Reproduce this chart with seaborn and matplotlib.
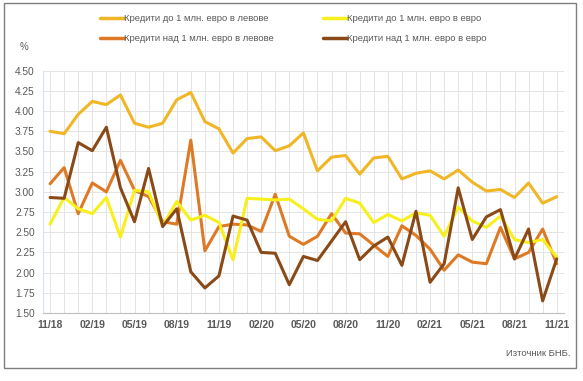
import matplotlib
matplotlib.use('Agg')
import matplotlib.pyplot as plt
import matplotlib.patches as mpatches
import pandas as pd
import seaborn as sns

# Monthly data 11/2018 - 11/2021
months = ['11/18', '12/18', '01/19', '02/19', '03/19', '04/19', '05/19', '06/19', '07/19',
          '08/19', '09/19', '10/19', '11/19', '12/19', '01/20', '02/20', '03/20', '04/20',
          '05/20', '06/20', '07/20', '08/20', '09/20', '10/20', '11/20', '12/20', '01/21',
          '02/21', '03/21', '04/21', '05/21', '06/21', '07/21', '08/21', '09/21', '10/21', '11/21']

bgn_small = [3.75, 3.72, 3.96, 4.12, 4.08, 4.20, 3.85, 3.80, 3.85, 4.14, 4.23, 3.87, 3.78,
             3.48, 3.66, 3.68, 3.51, 3.57, 3.73, 3.26, 3.43, 3.45, 3.22, 3.42, 3.44, 3.16,
             3.23, 3.26, 3.16, 3.27, 3.12, 3.01, 3.03, 2.93, 3.11, 2.86, 2.94]
eur_small = [2.60, 2.93, 2.79, 2.73, 2.93, 2.44, 3.02, 3.00, 2.58, 2.88, 2.65, 2.71, 2.62,
             2.16, 2.92, 2.91, 2.90, 2.91, 2.79, 2.66, 2.64, 2.92, 2.86, 2.62, 2.72, 2.64,
             2.74, 2.71, 2.45, 2.81, 2.64, 2.56, 2.70, 2.41, 2.37, 2.41, 2.19]
bgn_large = [3.10, 3.30, 2.73, 3.11, 3.00, 3.39, 3.02, 2.94, 2.63, 2.60, 3.64, 2.27, 2.57,
             2.60, 2.59, 2.51, 2.97, 2.45, 2.35, 2.45, 2.73, 2.49, 2.48, 2.34, 2.20, 2.58,
             2.46, 2.29, 2.03, 2.22, 2.13, 2.11, 2.56, 2.17, 2.25, 2.54, 2.11]
eur_large = [2.93, 2.92, 3.61, 3.51, 3.80, 3.05, 2.63, 3.29, 2.57, 2.79, 2.01, 1.81, 1.96,
             2.70, 2.65, 2.25, 2.24, 1.85, 2.20, 2.15, 2.39, 2.63, 2.16, 2.33, 2.44, 2.09,
             2.76, 1.88, 2.11, 3.05, 2.41, 2.69, 2.78, 2.17, 2.54, 1.65, 2.17]

names = ['Кредити до 1 млн. евро в левове', 'Кредити над 1 млн. евро в левове',
         'Кредити до 1 млн. евро в евро', 'Кредити над 1 млн. евро в евро']
colors = ['#F0B625', '#DE7A26', '#F7F01C', '#8A4A17']

df = pd.DataFrame({'idx': list(range(len(months))) * 4,
                   'value': bgn_small + bgn_large + eur_small + eur_large,
                   'series': [n for n in names for _ in months]})

sns.set_style('white')
plt.rcParams['font.family'] = ['Liberation Sans', 'DejaVu Sans']

fig = plt.figure(figsize=(5.83, 3.81), dpi=100)
ax = fig.add_axes([0.0738, 0.1785, 0.8932, 0.6359])

sns.lineplot(data=df, x='idx', y='value', hue='series', hue_order=names,
             palette=dict(zip(names, colors)), linewidth=2.2, ax=ax, legend=False)

ax.set_xlim(-0.5, len(months) - 0.5)
ax.set_ylim(1.5, 4.5)
ax.set_yticks([1.5 + 0.25 * i for i in range(13)])
ax.set_yticklabels(['%.2f' % (1.5 + 0.25 * i) for i in range(13)], fontsize=7.3, color='#595959')
ax.set_xticks(range(0, len(months), 3))
ax.set_xticklabels(months[::3], fontsize=7.5, color='#595959', fontweight='bold')
ax.set_xticks(range(len(months)), minor=True)
ax.tick_params(axis='x', which='both', length=3, color='#BFBFBF', direction='out', pad=2)
ax.tick_params(axis='y', length=0, pad=6)
ax.grid(True, which='both', color='#E4E4E4', linewidth=0.7)
ax.set_axisbelow(True)
ax.set_xlabel('')
ax.set_ylabel('')
for s in ['top', 'right']:
    ax.spines[s].set_visible(False)
ax.spines['bottom'].set_color('#BFBFBF')
ax.spines['left'].set_color('#D9E1F0')

handles = [plt.Line2D([], [], color=c, linewidth=2.5) for c in colors]
fig.legend(handles, names, loc='upper center', bbox_to_anchor=(0.503, 0.985), ncol=2,
           frameon=False, fontsize=6.8, labelcolor='#595959', handlelength=2.55,
           handletextpad=0.0, columnspacing=5.2, labelspacing=1.15)

fig.text(20 / 583, 1 - 47 / 381, '%', fontsize=7, color='#595959', va='center')
fig.text(570 / 583, 1 - 353 / 381, 'Източник БНБ.', fontsize=6.8, color='#595959',
         ha='right', va='center')

fig.patches.append(mpatches.Rectangle((4 / 583, 1 - 368 / 381), 572 / 583, 365 / 381,
                                      transform=fig.transFigure, fill=False,
                                      edgecolor='#7F7F7F', linewidth=1))

fig.savefig('out.png', dpi=100)
